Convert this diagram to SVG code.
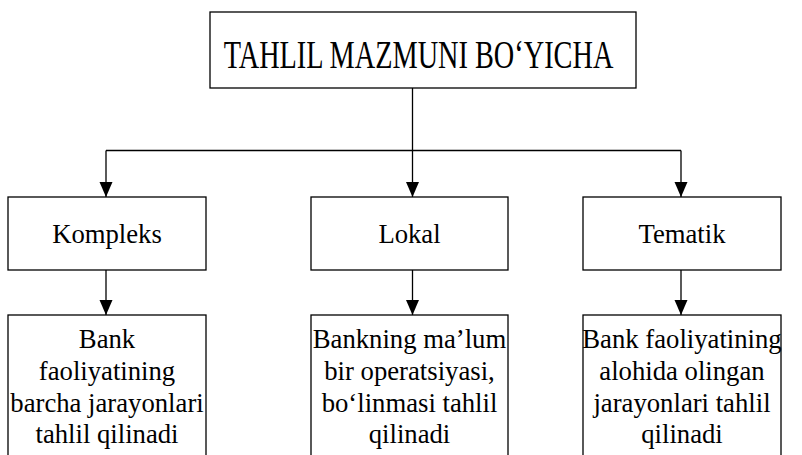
<svg xmlns="http://www.w3.org/2000/svg" width="802" height="455" viewBox="0 0 802 455">
<defs>
<style>
.box{fill:#fff;stroke:#000;stroke-width:1.3}
.t{font-family:'Liberation Serif','Times New Roman',serif;font-size:26.7px;fill:#000;text-anchor:middle}
.title{font-size:28.3px}
.c{fill:none;stroke:#000;stroke-width:1.3}
</style>
<marker id="ah" markerWidth="15" markerHeight="14" refX="15" refY="6.5" orient="auto" markerUnits="userSpaceOnUse">
<path d="M0,0 L15,6.5 L0,13 Z" fill="#000"/>
</marker>
</defs>
<rect width="802" height="455" fill="#fff"/>
<g id="connectors">
<path class="c" d="M412.5,88 V150.5"/>
<path class="c" d="M106,150.5 H681"/>
<path class="c" d="M106,150.5 V197" marker-end="url(#ah)"/>
<path class="c" d="M412.5,150.5 V197" marker-end="url(#ah)"/>
<path class="c" d="M681,150.5 V197" marker-end="url(#ah)"/>
<path class="c" d="M106,270 V315" marker-end="url(#ah)"/>
<path class="c" d="M412.5,270 V315" marker-end="url(#ah)"/>
<path class="c" d="M681,270 V315" marker-end="url(#ah)"/>
</g>
<g id="root">
<rect class="box" x="210" y="12" width="426" height="76"/>
<text class="t title" transform="translate(418.5,67.5) scale(1,1.42)" x="0" y="0">TAHLIL MAZMUNI BO‘YICHA</text>
</g>
<g id="kompleks">
<rect class="box" x="8" y="197" width="198" height="73"/>
<text class="t" x="107" y="243">Kompleks</text>
</g>
<g id="lokal">
<rect class="box" x="311" y="197" width="197" height="73"/>
<text class="t" x="409.5" y="243">Lokal</text>
</g>
<g id="tematik">
<rect class="box" x="583" y="197" width="198" height="73"/>
<text class="t" x="682" y="243">Tematik</text>
</g>
<g id="kompleks-desc">
<rect class="box" x="8" y="315" width="198" height="150"/>
<text class="t" x="107" y="348">Bank</text>
<text class="t" x="107" y="380">faoliyatining</text>
<text class="t" x="107" y="411.5">barcha jarayonlari</text>
<text class="t" x="107" y="443">tahlil qilinadi</text>
</g>
<g id="lokal-desc">
<rect class="box" x="311" y="315" width="197" height="150"/>
<text class="t" x="409.5" y="348">Bankning ma’lum</text>
<text class="t" x="409.5" y="380">bir operatsiyasi,</text>
<text class="t" x="409.5" y="411.5">bo‘linmasi tahlil</text>
<text class="t" x="409.5" y="443">qilinadi</text>
</g>
<g id="tematik-desc">
<rect class="box" x="583" y="315" width="198" height="150"/>
<text class="t" x="682" y="348">Bank faoliyatining</text>
<text class="t" x="682" y="380">alohida olingan</text>
<text class="t" x="682" y="411.5">jarayonlari tahlil</text>
<text class="t" x="682" y="443">qilinadi</text>
</g>
</svg>
